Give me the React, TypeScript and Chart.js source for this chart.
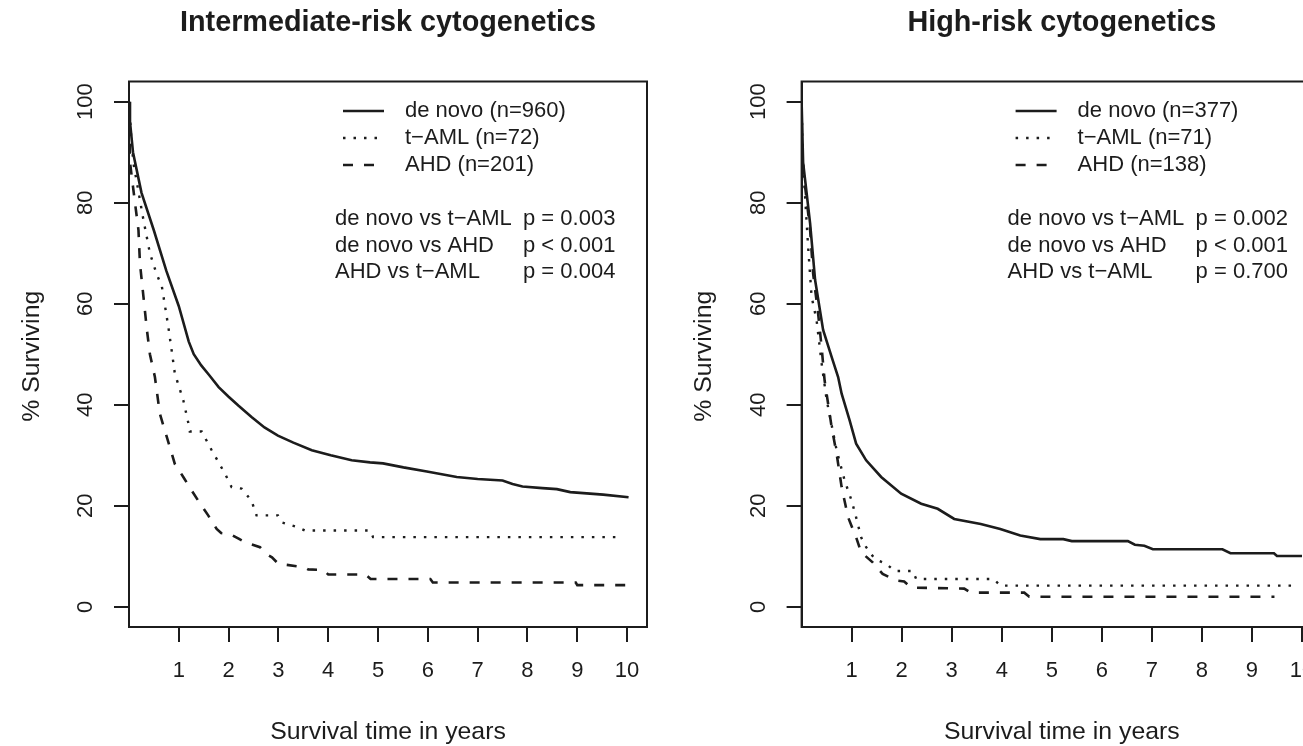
import React, { useEffect, useRef } from "react";
import { Chart, registerables } from "chart.js";

Chart.register(...registerables);

const FONT = '"Liberation Sans", Arial, Helvetica, sans-serif';
const INK = "#1c1c1c";

// ---- axes ----
const xTickValues = [1, 2, 3, 4, 5, 6, 7, 8, 9, 10];
const yTickValues = [0, 20, 40, 60, 80, 100];

// ---- Intermediate-risk cytogenetics ----
const intDeNovoYears = [0, 0.02, 0.08, 0.25, 0.5, 0.75, 1.0, 1.2, 1.3, 1.45, 1.6, 1.8, 2.0, 2.2, 2.46, 2.72, 2.99, 3.3, 3.67, 4.05, 4.47, 4.84, 5.1, 5.51, 5.98, 6.58, 7.0, 7.5, 7.7, 7.9, 8.3, 8.59, 8.86, 9.52, 10.03];
const intDeNovoSurv = [100, 96, 90, 82, 74.5, 66.5, 59.5, 52.5, 50, 47.8, 46, 43.5, 41.6, 39.8, 37.6, 35.5, 33.9, 32.5, 31, 30, 29, 28.6, 28.4, 27.6, 26.8, 25.7, 25.3, 25, 24.3, 23.8, 23.5, 23.3, 22.7, 22.2, 21.7];

const intTamlYears = [0, 0.05, 0.09, 0.29, 0.42, 0.55, 0.66, 0.79, 0.86, 0.92, 1.09, 1.2, 1.22, 1.46, 1.66, 1.93, 2.06, 2.26, 2.46, 2.56, 2.99, 3.07, 3.4, 3.53, 4.84, 4.9, 9.8];
const intTamlSurv = [100, 92, 87.8, 76.6, 70, 66, 63.4, 55.4, 50.5, 46.2, 40.9, 36, 34.7, 34.7, 31, 26.3, 23.7, 23.4, 21, 18.1, 18.1, 16.7, 15.7, 15.1, 15.1, 13.8, 13.8];

const intAhdYears = [0, 0.02, 0.12, 0.19, 0.22, 0.29, 0.36, 0.42, 0.52, 0.62, 0.76, 0.92, 1.09, 1.26, 1.43, 1.59, 1.76, 1.85, 2.03, 2.2, 2.33, 2.63, 2.75, 2.87, 3.0, 3.17, 3.53, 3.6, 3.9, 4.0, 4.75, 4.85, 6.05, 6.1, 8.97, 9.0, 10.03];
const intAhdSurv = [100, 88, 80, 74.6, 68, 61.4, 54.8, 50, 45.5, 38.2, 33.6, 28.3, 25.7, 23, 20.4, 18.1, 15.4, 14.6, 14.4, 13.5, 12.8, 11.8, 10.5, 9.8, 8.5, 8.3, 7.8, 7.4, 7.3, 6.4, 6.4, 5.5, 5.5, 4.8, 4.8, 4.3, 4.3];

const intLegendLabels = ["de novo (n=960)", "t\u2212AML (n=72)", "AHD (n=201)"];
const intCompLabels = ["de novo vs t\u2212AML", "de novo vs AHD", "AHD vs t\u2212AML"];
const intCompP = ["p = 0.003", "p < 0.001", "p = 0.004"];

// ---- High-risk cytogenetics ----
const highDeNovoYears = [0, 0.03, 0.17, 0.27, 0.43, 0.6, 0.73, 0.8, 0.96, 1.09, 1.29, 1.59, 1.99, 2.39, 2.72, 3.05, 3.58, 3.97, 4.37, 4.77, 5.23, 5.4, 6.52, 6.66, 6.85, 7.02, 8.41, 8.57, 9.44, 9.5, 10.0];
const highDeNovoSurv = [100, 88, 75.9, 64.7, 54.8, 49.5, 45.5, 42.2, 36.9, 32.3, 29, 25.7, 22.4, 20.4, 19.4, 17.4, 16.4, 15.4, 14.1, 13.4, 13.4, 13, 13, 12.3, 12.1, 11.4, 11.4, 10.6, 10.6, 10.05, 10.05];

const highTamlYears = [0, 0.02, 0.07, 0.13, 0.2, 0.3, 0.4, 0.5, 0.6, 0.7, 0.86, 1.0, 1.09, 1.19, 1.29, 1.46, 1.69, 1.86, 2.22, 2.29, 3.84, 3.97, 9.9];
const highTamlSurv = [100, 90, 81.2, 71.3, 61.4, 56.7, 48.2, 41, 36, 31, 25, 21, 17.7, 13.75, 11.8, 9.5, 8.5, 7.1, 7.1, 5.5, 5.5, 4.2, 4.2];

const highAhdYears = [0, 0.01, 0.07, 0.17, 0.23, 0.33, 0.4, 0.46, 0.53, 0.6, 0.7, 0.8, 0.93, 1.09, 1.19, 1.42, 1.62, 1.89, 2.05, 2.19, 3.25, 3.38, 4.45, 4.55, 9.45];
const highAhdSurv = [100, 88.5, 83.2, 74.6, 66, 58.1, 51.4, 44.8, 40.2, 35.6, 30.3, 23.7, 17.7, 13.75, 10.8, 8.8, 6.5, 5.2, 5.0, 3.8, 3.6, 2.8, 2.8, 2.0, 2.0];

const highLegendLabels = ["de novo (n=377)", "t\u2212AML (n=71)", "AHD (n=138)"];
const highCompLabels = ["de novo vs t\u2212AML", "de novo vs AHD", "AHD vs t\u2212AML"];
const highCompP = ["p = 0.002", "p < 0.001", "p = 0.700"];

const xAxisTitle = "Survival time in years";
const yAxisTitle = "% Surviving";

// line styles: solid, dotted, dashed
const lineStyles = [
  { width: 2.6, dash: [] as number[] },
  { width: 2.4, dash: [2.5, 8] },
  { width: 2.6, dash: [10, 11] },
];

type Series = { t: number[]; s: number[] };

type PanelProps = {
  left: number;
  width: number;
  axisWidth: number;
  rightPad: number;
  title: string;
  series: Series[];
  legend: string[];
  compLabels: string[];
  compP: string[];
};

function Panel(props: PanelProps) {
  const ref = useRef<HTMLCanvasElement>(null);
  useEffect(() => {
    const { title, series, legend, compLabels, compP, axisWidth, rightPad } = props;
    const decor = {
      id: "decor",
      afterDraw(chart: any) {
        const { ctx, chartArea: a, scales } = chart;
        ctx.save();
        ctx.fillStyle = INK;
        ctx.strokeStyle = INK;
        // box
        ctx.lineWidth = 2;
        ctx.setLineDash([]);
        ctx.strokeRect(a.left, a.top, a.right - a.left, a.bottom - a.top);
        // title
        ctx.font = `bold 28.8px ${FONT}`;
        ctx.textAlign = "center";
        ctx.textBaseline = "middle";
        ctx.fillText(title, (a.left + a.right) / 2, 23);
        // y tick labels (rotated, parallel to axis)
        ctx.font = `22px ${FONT}`;
        for (const v of yTickValues) {
          const y = scales.y.getPixelForValue(v);
          ctx.save();
          ctx.translate(a.left - 43, y);
          ctx.rotate(-Math.PI / 2);
          ctx.fillText(String(v), 0, 0);
          ctx.restore();
        }
        // axis titles
        ctx.font = `24.8px ${FONT}`;
        ctx.save();
        ctx.translate(a.left - 97, (a.top + a.bottom) / 2 + 2);
        ctx.rotate(-Math.PI / 2);
        ctx.fillText(yAxisTitle, 0, 0);
        ctx.restore();
        ctx.fillText(xAxisTitle, (a.left + a.right) / 2, 732);
        // legend
        ctx.font = `22px ${FONT}`;
        ctx.textAlign = "left";
        const rows = [29.5, 56.5, 83.5];
        legend.forEach((lab, i) => {
          const y = a.top + rows[i];
          ctx.save();
          ctx.lineWidth = lineStyles[i].width;
          ctx.setLineDash(lineStyles[i].dash);
          ctx.beginPath();
          ctx.moveTo(a.left + 214, y);
          ctx.lineTo(a.left + 255, y);
          ctx.stroke();
          ctx.restore();
          ctx.fillText(lab, a.left + 276, y);
        });
        const prow = [137.5, 164.5, 190.5];
        compLabels.forEach((lab, i) => {
          const y = a.top + prow[i];
          ctx.fillText(lab, a.left + 206, y);
          ctx.fillText(compP[i], a.left + 394, y);
        });
        ctx.restore();
      },
    };
    const tickGrid = {
      drawOnChartArea: false,
      drawTicks: true,
      tickLength: 15,
      color: INK,
      lineWidth: 2,
    };
    const chart = new Chart(ref.current as HTMLCanvasElement, {
      type: "line",
      data: {
        datasets: series.map((s, i) => ({
          label: legend[i],
          data: s.t.map((t, k) => ({ x: t, y: s.s[k] })),
          borderColor: INK,
          borderWidth: lineStyles[i].width,
          borderDash: lineStyles[i].dash,
          pointRadius: 0,
          fill: false,
          tension: 0,
        })),
      },
      options: {
        animation: false,
        responsive: false,
        devicePixelRatio: 1,
        layout: { padding: { top: 81.5, right: rightPad, bottom: 0, left: 0 } },
        plugins: {
          legend: { display: false },
          tooltip: { enabled: false },
          title: { display: false },
        },
        scales: {
          x: {
            type: "linear",
            min: 0,
            max: 10.4,
            afterBuildTicks: (s: any) => {
              s.ticks = xTickValues.map((v) => ({ value: v }));
            },
            afterFit: (s: any) => {
              s.height = 119;
            },
            ticks: {
              font: { size: 22, family: FONT },
              color: INK,
              padding: 16,
              maxRotation: 0,
              autoSkip: false,
            },
            grid: tickGrid,
            border: { display: true, color: INK, width: 2 },
          },
          y: {
            type: "linear",
            min: -4,
            max: 104,
            afterBuildTicks: (s: any) => {
              s.ticks = yTickValues.map((v) => ({ value: v }));
            },
            afterFit: (s: any) => {
              s.width = axisWidth;
            },
            ticks: { display: false },
            grid: tickGrid,
            border: { display: true, color: INK, width: 2 },
          },
        },
      } as any,
      plugins: [decor],
    });
    return () => chart.destroy();
  }, []);
  return (
    <canvas
      ref={ref}
      width={props.width}
      height={746}
      style={{ position: "absolute", left: props.left, top: 0, width: props.width, height: 746, display: "block" }}
    />
  );
}

export default function App() {
  return (
    <div
      style={{
        position: "fixed",
        left: 0,
        top: 0,
        width: 1303,
        height: 746,
        overflow: "hidden",
        background: "#ffffff",
        fontFamily: FONT,
      }}
    >
      <Panel
        left={0}
        width={660}
        axisWidth={129}
        rightPad={13}
        title="Intermediate-risk cytogenetics"
        series={[
          { t: intDeNovoYears, s: intDeNovoSurv },
          { t: intTamlYears, s: intTamlSurv },
          { t: intAhdYears, s: intAhdSurv },
        ]}
        legend={intLegendLabels}
        compLabels={intCompLabels}
        compP={intCompP}
      />
      <Panel
        left={650}
        width={700}
        axisWidth={151.6}
        rightPad={28}
        title="High-risk cytogenetics"
        series={[
          { t: highDeNovoYears, s: highDeNovoSurv },
          { t: highTamlYears, s: highTamlSurv },
          { t: highAhdYears, s: highAhdSurv },
        ]}
        legend={highLegendLabels}
        compLabels={highCompLabels}
        compP={highCompP}
      />
    </div>
  );
}
